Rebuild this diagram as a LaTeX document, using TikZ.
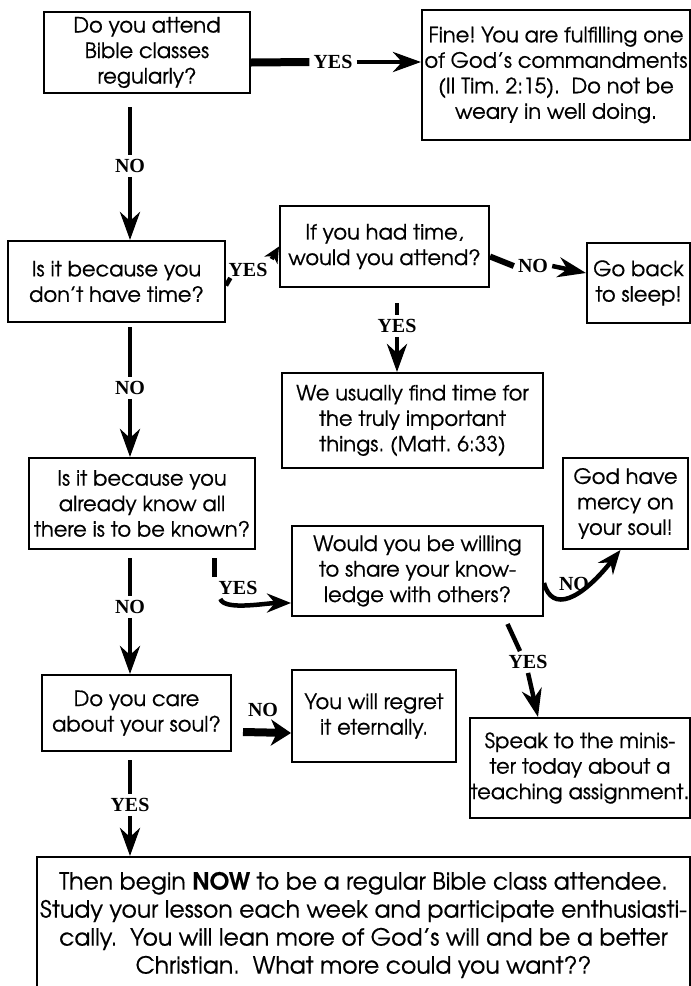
\documentclass[tikz,border=0pt]{standalone}
\usepackage{fontspec}
\setmainfont{TeX Gyre Adventor}[FakeBold=0.6]
\newfontfamily\lblfont{Liberation Serif}
\usetikzlibrary{arrows.meta}
\frenchspacing

\begin{document}
\begin{tikzpicture}[x=1pt,y=-1pt,
	box/.style={draw,line width=2pt,align=center,inner sep=1pt,font=\fontsize{21}{25.5}\selectfont},
	lbl/.style={inner sep=4pt,font=\lblfont\bfseries\fontsize{20}{20}\selectfont},
	seg/.style={line width=4.5pt},
	flow/.style={seg,-{Stealth[length=28pt,width=20pt,inset=9pt]}},
	shortflow/.style={seg,-{Stealth[length=16pt,width=15pt,inset=5pt]}}]
	\useasboundingbox (0,0) rectangle (691,986);

	\node[box,minimum width=206,minimum height=81] (q1) at (147,52.5) {Do you attend\\Bible classes\\regularly?};
	\node[box,minimum width=268,minimum height=130] (fine) at (556,75) {Fine! You are fulfilling one\\of God’s commandments\\(II Tim. 2:15).\ \ Do not be\\weary in well doing.};
	\node[box,minimum width=217,minimum height=81] (q2) at (116.5,281.5) {Is it because you\\don’t have time?};
	\node[box,minimum width=209,minimum height=81] (q3) at (384.5,246.5) {If you had time,\\would you attend?};
	\node[box,minimum width=103,minimum height=80] (sleep) at (638.5,283) {Go back\\to sleep!};
	\node[box,minimum width=261,minimum height=95] (findtime) at (412.5,420.5) {We usually find time for\\the truly important\\things. (Matt. 6:33)};
	\node[box,minimum width=226,minimum height=91] (q4) at (142,503.5) {Is it because you\\already know all\\there is to be known?};
	\node[box,minimum width=251,minimum height=90] (q5) at (417.5,571) {Would you be willing\\to share your know-\\ledge with others?};
	\node[box,minimum width=125,minimum height=91] (mercy) at (625.5,503.5) {God have\\mercy on\\your soul!};
	\node[box,minimum width=220,minimum height=100] (teach) at (580,768) {Speak to the minis-\\ter today about a\\teaching assignment.};
	\node[box,minimum width=189,minimum height=76] (q6) at (136.5,713) {Do you care\\about your soul?};
	\node[box,minimum width=164,minimum height=92] (regret) at (374,716) {You will regret\\it eternally.};
	\node[box,minimum width=653,minimum height=136,font=\fontsize{23.5}{28}\selectfont] (final) at (363.5,925) {Then begin \textbf{NOW} to be a regular Bible class attendee.\\Study your lesson each week and participate enthusiasti-\\cally.\ \ You will lean more of God’s will and be a better\\Christian.\ \ What more could you want??};

	% left column
	\foreach \a/\b/\l/\t/\y/\s in {q1/q2/no1/NO/166/13pt, q2/q4/no3/NO/388/4pt, q4/q6/no6/NO/607/8pt, q6/final/yes6/YES/805/8pt}
	  {\node[lbl] (\l) at (130,\y) {\t};
	   \draw[seg,shorten <=\s] (\a.south -| \l) -- (\l.north);
	   \draw[flow] (\l.south) -- (\l |- \b.north);}

	\node[lbl] (yes1) at (333,62) {YES};
	\draw[seg,line width=8pt] ([yshift=-10pt]q1.east) -- (yes1.west);
	\draw[flow] (yes1.east) -- (yes1.east -| fine.west);

	\node[lbl,inner sep=1pt] (yes2) at (248,270) {YES};
	\draw[seg] ([yshift=-4pt]q2.east) -- ([xshift=3pt]yes2.south west);
	\draw[shortflow] ([shift={(3pt,3pt)}]yes2.north east) -- (q3.west);

	\node[lbl] (no2) at (533,266) {NO};
	\draw[seg,line width=6pt] ([yshift=-10pt]q3.east) -- (no2.west);
	\draw[flow] (no2.east) -- ([yshift=10pt]sleep.west);

	\node[lbl] (yes3) at (397,326) {YES};
	\draw[seg,shorten <=15pt] (q3.south -| yes3) -- (yes3.north);
	\draw[flow] (yes3.south) -- (yes3 |- findtime.north);

	\node[lbl] (yes4) at (238,588) {YES};
	\draw[seg,shorten <=8pt] (q4.south -| yes4.north west) -- (yes4.north west);
	\draw[flow,-{Stealth[length=24pt,width=19pt,inset=8pt]}] ([xshift=6pt]yes4.south west) .. controls +(4pt,-12pt) and +(-25pt,0pt) .. ([yshift=-32pt]q5.west);

	\node[lbl] (no4) at (574,584) {NO};
	\draw[flow,-{Stealth[length=24pt,width=19pt,inset=8pt]}] ([yshift=-12pt]q5.east) .. controls +(8pt,-30pt) and +(-40pt,-50pt) .. ([xshift=-5pt]mercy.south);

	\node[lbl] (yes5) at (528,662) {YES};
	\draw[seg] ([xshift=90pt,yshift=-7pt]q5.south) -- ([xshift=-8pt]yes5.north);
	\draw[flow] (yes5.south) -- ([xshift=-42pt]teach.north);

	\node[lbl] (no5) at (263,710) {NO};
	\draw[seg,line width=8pt,-{Stealth[length=20pt,width=26pt,inset=6pt]}] ([xshift=11pt,yshift=-19pt]q6.east) -- ([yshift=-17pt]regret.west);

\end{tikzpicture}
\end{document}
